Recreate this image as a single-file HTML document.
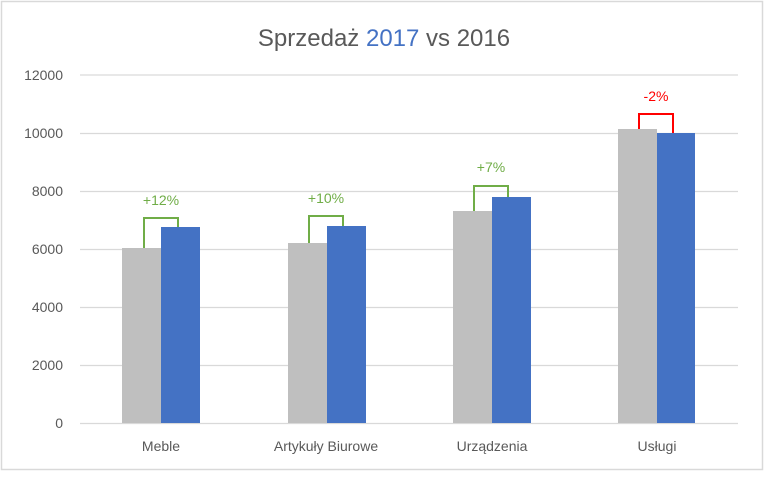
<!DOCTYPE html><html><head><style>body{margin:0;background:#fff}</style></head><body>
<svg width="768" height="474" xmlns="http://www.w3.org/2000/svg" font-family="Liberation Sans, sans-serif">
<rect x="1.5" y="1.5" width="761" height="468" fill="#fff" stroke="#d9d9d9" stroke-width="1.5"/>
<text x="384" y="46" text-anchor="middle" font-size="24" fill="#595959">Sprzedaż <tspan fill="#4472c4">2017</tspan> vs 2016</text>
<g stroke="#d9d9d9" stroke-width="1.3">
<line x1="80" x2="738" y1="75" y2="75"/><line x1="80" x2="738" y1="133.5" y2="133.5"/><line x1="80" x2="738" y1="191.5" y2="191.5"/><line x1="80" x2="738" y1="249.5" y2="249.5"/><line x1="80" x2="738" y1="307.5" y2="307.5"/><line x1="80" x2="738" y1="365.5" y2="365.5"/><line x1="80" x2="738" y1="423.5" y2="423.5"/>
</g>
<g font-size="14" fill="#595959" text-anchor="end">
<text x="63" y="80">12000</text><text x="63" y="138">10000</text><text x="63" y="196">8000</text><text x="63" y="254">6000</text><text x="63" y="312">4000</text><text x="63" y="370">2000</text><text x="63" y="428">0</text>
</g>
<g fill="#bfbfbf"><rect x="122" y="248" width="39" height="175"/><rect x="288" y="243" width="39" height="180"/><rect x="453" y="211" width="39" height="212"/><rect x="618" y="129" width="39" height="294"/></g>
<g fill="#4472c4"><rect x="161" y="227" width="39" height="196"/><rect x="327" y="226" width="39" height="197"/><rect x="492" y="197" width="39" height="226"/><rect x="657" y="133" width="38" height="290"/></g>
<g fill="none" stroke-width="2">
<path d="M144 248V218H178V227" stroke="#70ad47"/><path d="M309 243V216H343V226" stroke="#70ad47"/><path d="M474 211V186H508V197" stroke="#70ad47"/><path d="M639 129V114H673V133" stroke="#ff0000"/>
</g>
<g font-size="14" text-anchor="middle">
<text x="161" y="205" fill="#70ad47">+12%</text><text x="326" y="203" fill="#70ad47">+10%</text><text x="491" y="172" fill="#70ad47">+7%</text><text x="656" y="101" fill="#ff0000">-2%</text>
</g>
<g font-size="14" fill="#595959" text-anchor="middle">
<text x="161" y="451">Meble</text><text x="326" y="451">Artykuły Biurowe</text><text x="492" y="451">Urządzenia</text><text x="657" y="451">Usługi</text>
</g>
</svg></body></html>
